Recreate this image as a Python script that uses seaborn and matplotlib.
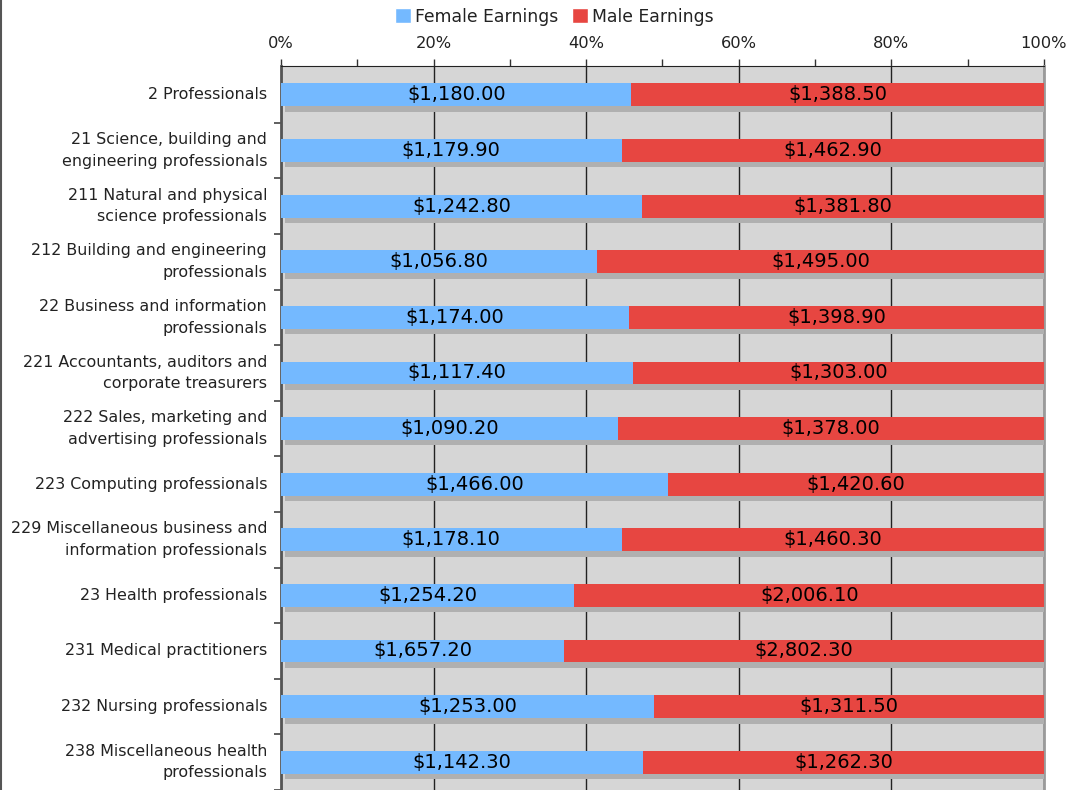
import numpy as np
import pandas as pd
import matplotlib
matplotlib.use('Agg')
import matplotlib.pyplot as plt
import matplotlib.patheffects as pe
from matplotlib.lines import Line2D
from matplotlib.patches import Patch
import seaborn as sns

categories = [
    '2 Professionals',
    '21 Science, building and\nengineering professionals',
    '211 Natural and physical\nscience professionals',
    '212 Building and engineering\nprofessionals',
    '22 Business and information\nprofessionals',
    '221 Accountants, auditors and\ncorporate treasurers',
    '222 Sales, marketing and\nadvertising professionals',
    '223 Computing professionals',
    '229 Miscellaneous business and\ninformation professionals',
    '23 Health professionals',
    '231 Medical practitioners',
    '232 Nursing professionals',
    '238 Miscellaneous health\nprofessionals',
]
female = [1180.00, 1179.90, 1242.80, 1056.80, 1174.00, 1117.40, 1090.20,
          1466.00, 1178.10, 1254.20, 1657.20, 1253.00, 1142.30]
male = [1388.50, 1462.90, 1381.80, 1495.00, 1398.90, 1303.00, 1378.00,
        1420.60, 1460.30, 2006.10, 2802.30, 1311.50, 1262.30]

BLUE = '#74b9ff'
RED = '#e74641'
BG = '#d6d6d6'
TXT = '#222222'

df = pd.DataFrame({'cat': categories, 'female': female, 'male': male})
df['total'] = df['female'] + df['male']
df['f_pct'] = df['female'] / df['total'] * 100
df['m_pct'] = df['male'] / df['total'] * 100
df['all_pct'] = df['f_pct'] + df['m_pct']

sns.set_style('white')
plt.rcParams['font.family'] = ['DejaVu Sans']

fig = plt.figure(figsize=(10.74, 7.90), dpi=100)
ax = fig.add_axes([0.2616, 0.0, 0.7104, 0.9165])

# full bar (male segment shows through), with drop shadow
sns.barplot(data=df, x='all_pct', y='cat', orient='h', color=RED,
            width=0.41, saturation=1, ax=ax, zorder=3)
for p in ax.patches:
    p.set_path_effects([pe.SimplePatchShadow(offset=(3, -4), shadow_rgbFace='#b0b0b0', alpha=1),
                        pe.Normal()])
    p.set_edgecolor('none')
n_full = len(ax.patches)
sns.barplot(data=df, x='f_pct', y='cat', orient='h', color=BLUE,
            width=0.41, saturation=1, ax=ax, zorder=4)
for p in ax.patches[n_full:]:
    p.set_edgecolor('none')

for i, row in df.iterrows():
    ax.text(row['f_pct'] / 2, i, f"${row['female']:,.2f}", ha='center', va='center',
            fontsize=14, color='black', zorder=5)
    ax.text(row['f_pct'] + row['m_pct'] / 2, i, f"${row['male']:,.2f}", ha='center', va='center',
            fontsize=14, color='black', zorder=5)

ax.set_facecolor(BG)
ax.set_xlim(0, 100)
ax.set_ylim(12.43, -0.52)
ax.set_xlabel('')
ax.set_ylabel('')

ax.xaxis.tick_top()
ax.set_xticks(np.arange(0, 101, 20))
ax.set_xticklabels([f'{v}%' for v in range(0, 101, 20)])
ax.set_xticks(np.arange(10, 100, 20), minor=True)
ax.tick_params(axis='x', which='both', direction='out', length=5, width=1, color='#333333',
               labelsize=11.7, labelcolor=TXT, pad=6, top=True, bottom=False)
ax.grid(axis='x', which='major', color='#222222', linewidth=1, zorder=1)
ax.set_axisbelow(True)

ax.set_yticks(np.arange(len(categories)) + 0.5, minor=True)
ax.tick_params(axis='y', which='major', left=True, length=0, labelsize=11.4, labelcolor=TXT, pad=10)
ax.tick_params(axis='y', which='minor', left=True, direction='out', length=5, width=1.2, color='#444444')
for lbl in ax.get_yticklabels():
    lbl.set_linespacing(1.55)
    lbl.set_verticalalignment('center')

ax.spines['top'].set_color('#222222')
ax.spines['left'].set_color('#555555')
ax.spines['left'].set_linewidth(2)
ax.spines['right'].set_color('#9a9a9a')
ax.spines['right'].set_linewidth(2)
ax.spines['bottom'].set_visible(False)

handles = [Patch(facecolor=BLUE, label='Female Earnings'),
           Patch(facecolor=RED, label='Male Earnings')]
fig.legend(handles=handles, loc='center', bbox_to_anchor=(0.516, 0.979), ncol=2,
           frameon=False, fontsize=12.4, labelcolor=TXT, handlelength=0.95, handleheight=0.95,
           handletextpad=0.2, columnspacing=0.8)

fig.add_artist(Line2D([0.0008, 0.0008], [0, 1], color='#555555', linewidth=1.5))

fig.savefig('out.png', dpi=100)
